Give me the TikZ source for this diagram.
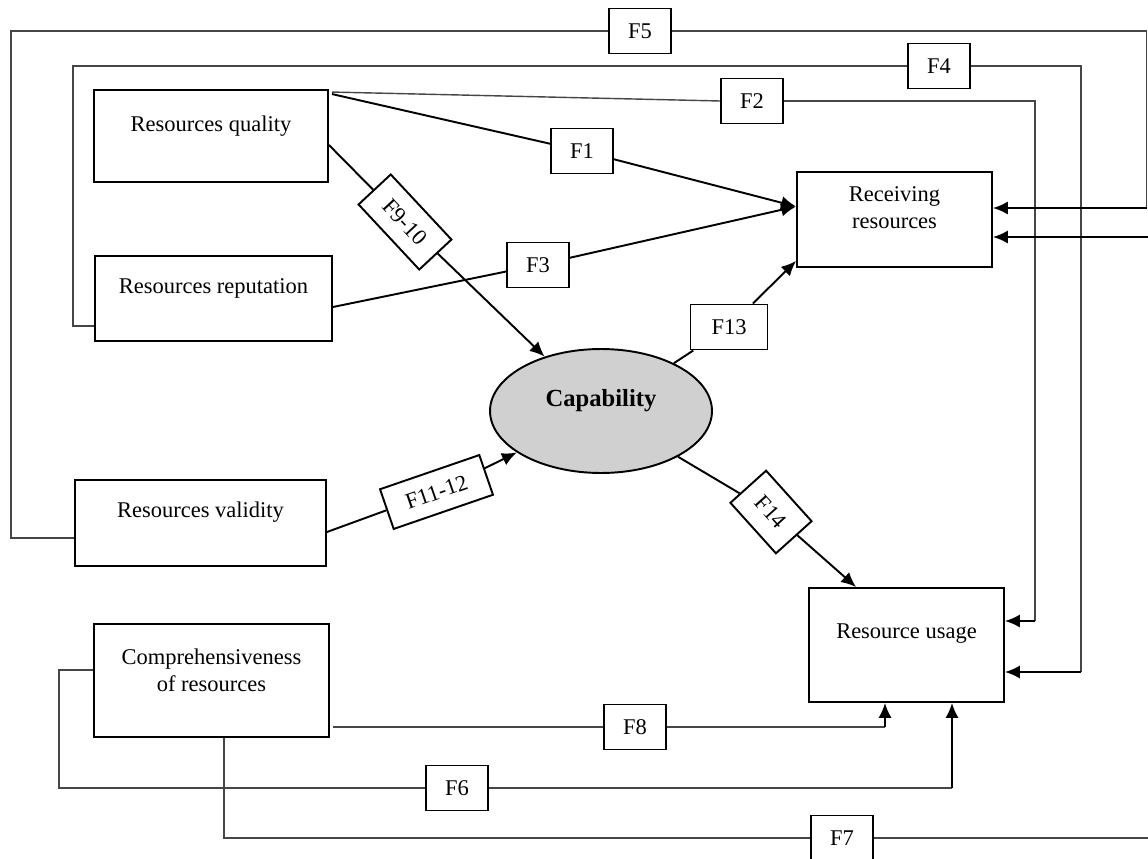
\documentclass[tikz,border=0pt]{standalone}
\usepackage{fontspec}
\setmainfont{Liberation Serif}
\usetikzlibrary{arrows.meta,calc,shapes.geometric}
\definecolor{capfill}{RGB}{208,208,208}
\definecolor{fbcol}{RGB}{70,70,70}
\begin{document}
\begin{tikzpicture}[x=0.02cm,y=-0.02cm,
  font=\fontsize{12.8}{15.5}\selectfont,
  bx/.style={draw, line width=1.1pt, inner sep=0pt},
  txt/.style={inner sep=0pt, align=center},
  fbox/.style={draw, line width=1.1pt, fill=white, inner sep=0pt, minimum width=1.24cm, minimum height=0.9cm},
  ln/.style={line width=1.1pt},
  arr/.style={line width=1.1pt, -{Latex[length=8.5pt,width=7.5pt]}},
  fbl/.style={line width=0.8pt, draw=fbcol},
]
\useasboundingbox (0,0) rectangle (1148,858);
\fill[white] (0,0) rectangle (1148,858);

% main boxes
\node[bx, minimum width=4.68cm, minimum height=1.84cm] (rq) at (211,136) {};
\node[txt] (rq-t) at ($(rq)+(0,-10)$) {Resources quality};
\node[bx, minimum width=4.74cm, minimum height=1.70cm] (rr) at (213.5,298.5) {};
\node[txt] (rr-t) at ($(rr)+(0,-10.5)$) {Resources reputation};
\node[bx, minimum width=5.02cm, minimum height=1.72cm] (rv) at (200.5,523) {};
\node[txt] (rv-t) at ($(rv)+(0,-11)$) {Resources validity};
\node[bx, minimum width=4.70cm, minimum height=2.26cm] (cr) at (211.5,680.5) {};
\node[txt] (cr-t) at ($(cr)+(0,-10)$) {Comprehensiveness\\of resources};
\node[bx, minimum width=3.90cm, minimum height=1.90cm] (recr) at (894.5,219.5) {};
\node[txt] (recr-t) at ($(recr)+(0,-11.5)$) {Receiving\\resources};
\node[bx, minimum width=3.90cm, minimum height=2.28cm] (ru) at (906.5,645) {};
\node[txt] (ru-t) at ($(ru)+(0,-11)$) {Resource usage};
\node[ellipse, draw, line width=1.1pt, fill=capfill, inner sep=0pt, minimum width=4.44cm, minimum height=2.48cm] (cap) at (601,411) {};
\node[txt, font=\fontsize{14}{16}\selectfont\bfseries] (cap-t) at ($(cap)+(0,-10)$) {Capability};

% factor boxes
\node[fbox] (f1) at (582,151) {F1};
\node[fbox] (f2) at (752,101) {F2};
\node[fbox] (f3) at (538,265) {F3};
\node[fbox] (f4) at (939,66) {F4};
\node[fbox] (f5) at (640,31) {F5};
\node[fbox] (f6) at (457,788) {F6};
\node[fbox] (f7) at (842,838) {F7};
\node[fbox] (f8) at (635,727) {F8};
\node[fbox, minimum width=1.78cm, minimum height=0.88cm, rotate=-47] (f910) at (405,222) {F9-10};
\node[fbox, minimum width=2.10cm, minimum height=0.84cm, rotate=19] (f1112) at (436.5,492) {F11-12};
\node[fbox, minimum width=1.54cm] (f13) at (729,327) {F13};
\node[fbox, minimum width=1.36cm, minimum height=0.96cm, rotate=-48] (f14) at (771,512) {F14};

% named points
\coordinate (recin) at ($(recr.west)+(0,-13)$);
\coordinate (rqf1) at ($(rq.north east)+(3,5)$);
\coordinate (rqf2) at ($(rq.north east)+(3,3)$);
\coordinate (rqf910) at ($(rq.east)+(0,9)$);
\coordinate (rrf3) at ($(rr.east)+(0,8.5)$);
\coordinate (rvf1112) at ($(rv.east)+(0,9)$);
\coordinate (recf13) at ($(recr.south west)+(0,-7)$);
\coordinate (ruf14) at ($(ru.north west)+(48,0)$);

% direct influences
\draw[ln] (rqf1) -- (f1);
\draw[arr] (f1) -- (recin);
\draw[ln] (rrf3) -- (f3);
\draw[arr] (f3) -- (recin);
\draw[ln] (rqf910) -- (f910);
\draw[arr] (f910) -- (cap);
\draw[ln] (rvf1112) -- (f1112);
\draw[arr] (f1112) -- (cap);
\draw[ln] (cap) -- (f13);
\draw[arr] (f13) -- (recf13);
\draw[ln] (cap) -- (f14);
\draw[arr] (f14) -- (ruf14);

% F2: quality -> usage
\coordinate (c2) at (1035,101);
\coordinate (c2b) at (1035,621);
\draw[fbl] (rqf2) -- (f2.west);
\draw[fbl] (f2.east) -- (c2) -- (c2b);
\draw[arr] (c2b) -- (c2b -| ru.east);

% F4: reputation -> usage
\coordinate (c4a) at (73,66);
\coordinate (c4b) at (1081,66);
\coordinate (c4c) at (1081,672);
\draw[fbl] ($(rr.west)+(0,27.5)$) -| (c4a) -- (f4.west);
\draw[fbl] (f4.east) -- (c4b) -- (c4c);
\draw[arr] (c4c) -- (c4c -| ru.east);

% F5: validity -> receiving
\coordinate (c5a) at (11,31);
\coordinate (c5b) at (1146.5,31);
\coordinate (c5c) at (1146.5,208);
\draw[fbl] ($(rv.west)+(0,15)$) -| (c5a) -- (f5.west);
\draw[fbl] (f5.east) -- (c5b) -- (c5c);
\draw[arr] (c5c) -- (c5c -| recr.east);

% F6: comprehensiveness -> usage
\coordinate (c6a) at (59,788);
\coordinate (c6b) at (952,788);
\draw[fbl] ($(cr.west)+(0,-10.5)$) -| (c6a) -- (f6.west);
\draw[fbl] (f6.east) -- (c6b);
\draw[arr] (c6b) -- (c6b |- ru.south);

% F7: comprehensiveness -> receiving
\coordinate (c7a) at (224,838);
\coordinate (c7b) at (1149.5,838);
\coordinate (c7c) at (1149.5,237);
\draw[fbl] (cr.south -| c7a) -- (c7a) -- (f7.west);
\draw[fbl] (f7.east) -- (c7b) -- (c7c);
\draw[arr] (c7c) -- (c7c -| recr.east);

% F8: comprehensiveness -> usage
\coordinate (c8a) at (333,727);
\coordinate (c8b) at (885,727);
\draw[fbl] (c8a) -- (f8.west);
\draw[fbl] (f8.east) -- (c8b);
\draw[arr] (c8b) -- (c8b |- ru.south);
\end{tikzpicture}
\end{document}
